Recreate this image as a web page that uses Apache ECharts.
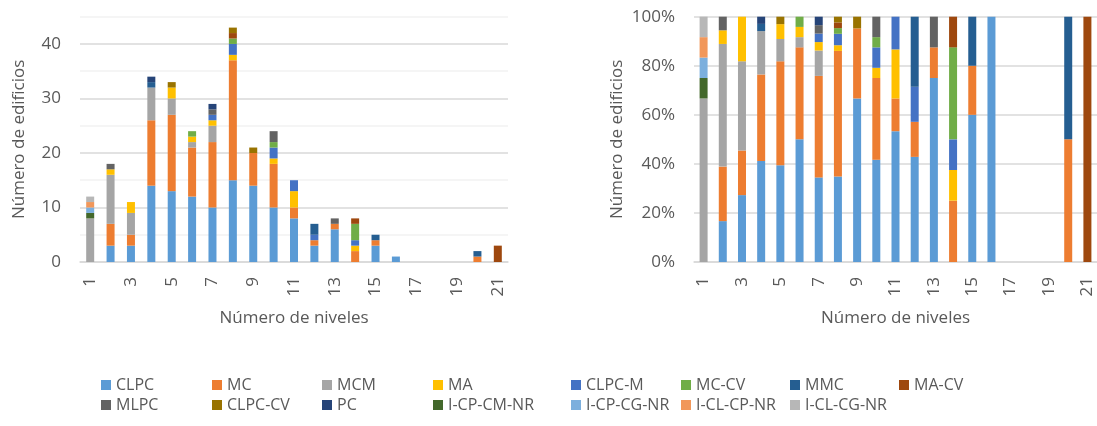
<!DOCTYPE html>
<html><head><meta charset="utf-8">
<script src="https://cdn.jsdelivr.net/npm/echarts@6/dist/echarts.min.js"></script>
<style>html,body{margin:0;padding:0;background:#fff}#c{width:1097px;height:426px}</style>
</head><body><div id="c"></div>
<script>
const levels = ['1','2','3','4','5','6','7','8','9','10','11','12','13','14','15','16','17','18','19','20','21'];
const seriesNames = ['CLPC','MC','MCM','MA','CLPC-M','MC-CV','MMC','MA-CV','MLPC','CLPC-CV','PC','I-CP-CM-NR','I-CP-CG-NR','I-CL-CP-NR','I-CL-CG-NR'];
const colors = ['#5B9BD5','#ED7D31','#A5A5A5','#FFC000','#4472C4','#70AD47','#255E91','#9E480E','#636363','#997300','#264478','#43682B','#7CAFDD','#F1975A','#B7B7B7'];
const CLPC    = [0,3,3,14,13,12,10,15,14,10,8,3,6,0,3,1,0,0,0,0,0];
const MC      = [0,4,2,12,14,9,12,22,6,8,2,1,1,2,1,0,0,0,0,1,0];
const MCM     = [8,9,4,6,3,1,3,0,0,0,0,0,0,0,0,0,0,0,0,0,0];
const MA      = [0,1,2,0,2,1,1,1,0,1,3,0,0,1,0,0,0,0,0,0,0];
const CLPC_M  = [0,0,0,0,0,0,1,2,0,2,2,1,0,1,0,0,0,0,0,0,0];
const MC_CV   = [0,0,0,0,0,1,0,1,0,1,0,0,0,3,0,0,0,0,0,0,0];
const MMC     = [0,0,0,1,0,0,0,0,0,0,0,2,0,0,1,0,0,0,0,1,0];
const MA_CV   = [0,0,0,0,0,0,0,1,0,0,0,0,0,1,0,0,0,0,0,0,3];
const MLPC    = [0,1,0,0,0,0,1,0,0,2,0,0,1,0,0,0,0,0,0,0,0];
const CLPC_CV = [0,0,0,0,1,0,0,1,1,0,0,0,0,0,0,0,0,0,0,0,0];
const PC      = [0,0,0,1,0,0,1,0,0,0,0,0,0,0,0,0,0,0,0,0,0];
const I_CP_CM_NR = [1,0,0,0,0,0,0,0,0,0,0,0,0,0,0,0,0,0,0,0,0];
const I_CP_CG_NR = [1,0,0,0,0,0,0,0,0,0,0,0,0,0,0,0,0,0,0,0,0];
const I_CL_CP_NR = [1,0,0,0,0,0,0,0,0,0,0,0,0,0,0,0,0,0,0,0,0];
const I_CL_CG_NR = [1,0,0,0,0,0,0,0,0,0,0,0,0,0,0,0,0,0,0,0,0];
const leftTicks = [0,10,20,30,40];
const rightTicks = [0,20,40,60,80,100];

const values = [CLPC,MC,MCM,MA,CLPC_M,MC_CV,MMC,MA_CV,MLPC,CLPC_CV,PC,I_CP_CM_NR,I_CP_CG_NR,I_CL_CP_NR,I_CL_CG_NR];
const totals = levels.map((_, i) => values.reduce((s, a) => s + a[i], 0));

const txt = '#595959';
const font = 'Open Sans';
const series = [];
seriesNames.forEach((n, k) => {
  series.push({name: n, type: 'bar', stack: 'L', xAxisIndex: 0, yAxisIndex: 0, barWidth: 8,
    itemStyle: {color: colors[k]}, data: values[k]});
  series.push({name: n, type: 'bar', stack: 'R', xAxisIndex: 1, yAxisIndex: 1, barWidth: 8,
    itemStyle: {color: colors[k]}, data: values[k].map((v, i) => totals[i] ? v / totals[i] * 100 : 0)});
});

const legendLeft = [96,207,317,428,566,676,785,894, 96,207,317,428,566,676,785];
const legends = seriesNames.map((n, k) => ({
  data: [n], left: legendLeft[k], top: k < 8 ? 372 : 392, itemWidth: 10, itemHeight: 10,
  icon: 'rect', textStyle: {color: txt, fontSize: 16, fontFamily: font}
}));

const xAx = (gi) => ({
  type: 'category', gridIndex: gi, data: levels,
  axisLine: {lineStyle: {color: '#D9D9D9', width: 1.5}},
  axisTick: {show: false},
  axisLabel: {interval: 1, rotate: 90, color: txt, fontSize: 17, fontFamily: font, margin: 15},
  name: 'Número de niveles', nameLocation: 'middle', nameGap: 48,
  nameTextStyle: {color: txt, fontSize: 17, fontFamily: font}
});

const chart = echarts.init(document.getElementById('c'));
chart.setOption({
  animation: false,
  legend: legends,
  grid: [
    {left: 80, right: 589, top: 16.7, bottom: 164},
    {left: 694, right: 0, top: 16.7, bottom: 164}
  ],
  xAxis: [xAx(0), xAx(1)],
  yAxis: [
    {type: 'value', gridIndex: 0, min: 0, max: 45, interval: 5,
     axisLabel: {color: txt, fontSize: 17, fontFamily: font, margin: 19,
       formatter: v => leftTicks.includes(v) ? String(v) : ''},
     splitLine: {lineStyle: {color: ['#D9D9D9','#F2F2F2'], width: 1.5}},
     axisLine: {show: false}, axisTick: {show: false},
     name: 'Número de edificios', nameLocation: 'middle', nameGap: 52,
     nameTextStyle: {color: txt, fontSize: 17, fontFamily: font}},
    {type: 'value', gridIndex: 1, min: 0, max: 100, interval: 20,
     axisLabel: {color: txt, fontSize: 17, fontFamily: font, margin: 19,
       formatter: v => rightTicks.includes(v) ? v + '%' : ''},
     splitLine: {lineStyle: {color: '#D9D9D9', width: 1.5}},
     axisLine: {show: false}, axisTick: {show: false},
     name: 'Número de edificios', nameLocation: 'middle', nameGap: 68,
     nameTextStyle: {color: txt, fontSize: 17, fontFamily: font}}
  ],
  series: series
});
</script></body></html>
